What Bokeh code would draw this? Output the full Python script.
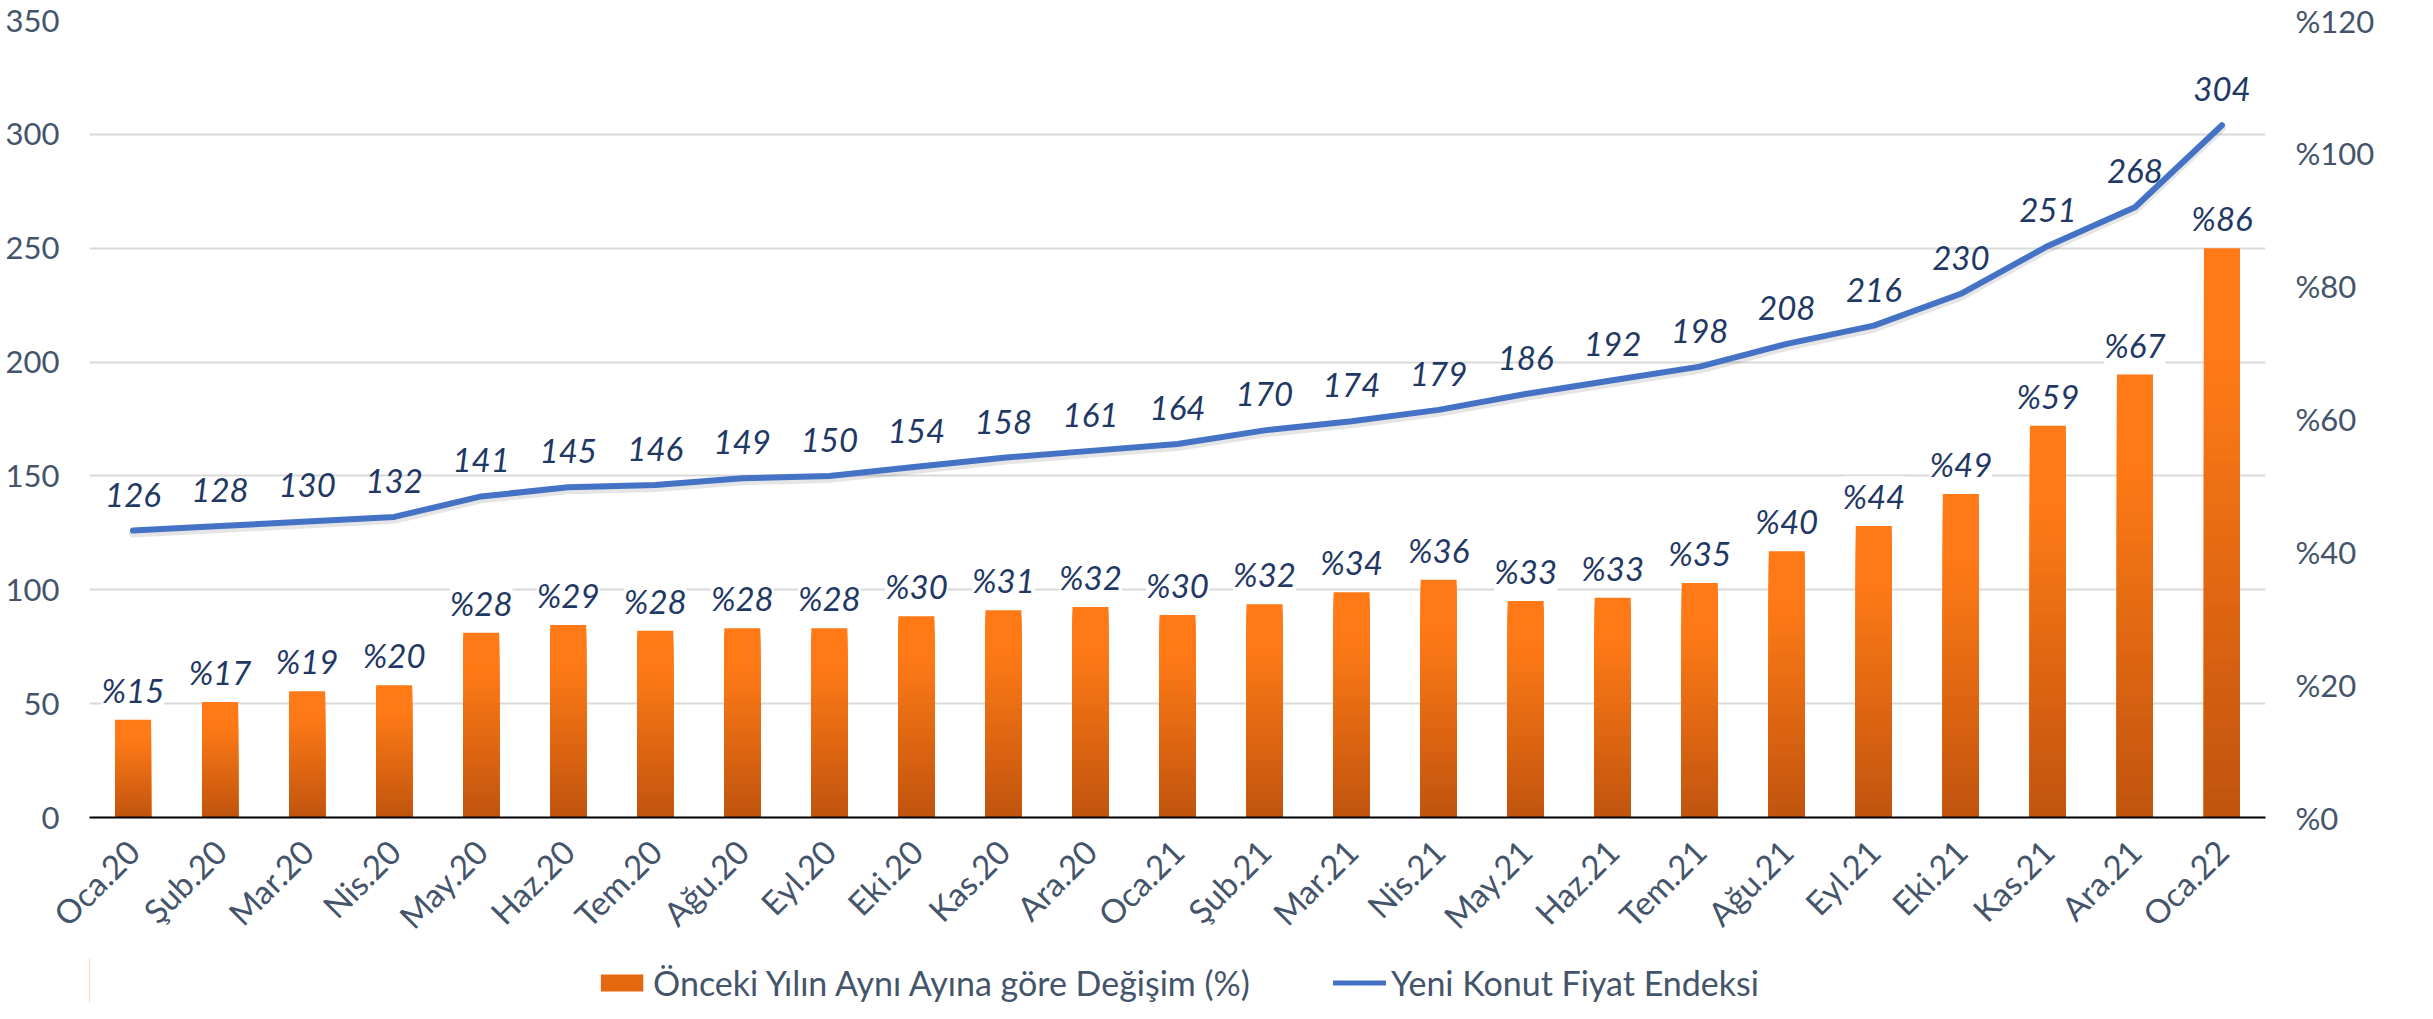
import numpy as np
from bokeh.plotting import figure
from bokeh.layouts import column
from bokeh.models import (ColumnDataSource, FactorRange, Range1d, LinearAxis, FixedTicker,
                          CustomJSTickFormatter, LabelSet, Legend, LegendItem)
from bokeh.core.properties import value
from bokeh.embed import file_html
from bokeh.resources import INLINE

# ---------------- data ----------------
months = ["Oca.20", "Şub.20", "Mar.20", "Nis.20", "May.20", "Haz.20", "Tem.20", "Ağu.20",
          "Eyl.20", "Eki.20", "Kas.20", "Ara.20", "Oca.21", "Şub.21", "Mar.21", "Nis.21",
          "May.21", "Haz.21", "Tem.21", "Ağu.21", "Eyl.21", "Eki.21", "Kas.21", "Ara.21", "Oca.22"]
index_values = [126, 128, 130, 132, 141, 145, 146, 149, 150, 154, 158, 161, 164, 170, 174,
                179, 186, 192, 198, 208, 216, 230, 251, 268, 304]
pct_change = [14.7, 17.4, 19.0, 19.9, 27.8, 29.0, 28.1, 28.5, 28.5, 30.3, 31.2, 31.7, 30.5,
              32.1, 33.9, 35.8, 32.6, 33.1, 35.3, 40.1, 43.9, 48.7, 59.0, 66.7, 85.7]
left_ticks = [0, 50, 100, 150, 200, 250, 300, 350]
right_ticks = [0, 20, 40, 60, 80, 100, 120]
series_names = ["Önceki Yılın Aynı Ayına göre Değişim (%)", "Yeni Konut Fiyat Endeksi"]

AXIS_COLOR = "#44546A"
LABEL_COLOR = "#1F3864"
LINE_COLOR = "#4472C4"
BAR_LEGEND_COLOR = "#E56810"
FONT = "Lato"

W = 2417
MAIN_H = 958
LEG_H = 45
TOP = 20
FRAME_H = 797

p = figure(x_range=FactorRange(*months, range_padding=0), y_range=Range1d(0, 350),
           width=W, height=MAIN_H, output_backend="svg", toolbar_location=None,
           min_border_left=89, min_border_right=152, min_border_top=TOP,
           min_border_bottom=MAIN_H - TOP - FRAME_H)
p.outline_line_color = None
p.extra_y_ranges = {"pct": Range1d(0, 120)}

# grid
p.xgrid.grid_line_color = None
p.ygrid.grid_line_color = "#D9D9D9"
p.ygrid.grid_line_width = 2
p.ygrid.ticker = FixedTicker(ticks=left_ticks)

# left axis
ya = p.yaxis[0]
ya.ticker = FixedTicker(ticks=left_ticks)
ya.axis_line_color = None
ya.major_tick_line_color = None
ya.minor_tick_line_color = None
ya.major_tick_out = 0
ya.major_tick_in = 0
ya.major_label_standoff = 30
ya.major_label_text_font = FONT
ya.major_label_text_font_size = "31px"
ya.major_label_text_color = AXIS_COLOR

# right axis
ra = LinearAxis(y_range_name="pct", ticker=FixedTicker(ticks=right_ticks),
                formatter=CustomJSTickFormatter(code="return '%' + tick;"))
ra.axis_line_color = None
ra.major_tick_line_color = None
ra.minor_tick_line_color = None
ra.major_tick_out = 0
ra.major_tick_in = 0
ra.major_label_standoff = 30
ra.major_label_text_font = FONT
ra.major_label_text_font_size = "31px"
ra.major_label_text_color = AXIS_COLOR
p.add_layout(ra, "right")

# x axis
xa = p.xaxis[0]
xa.axis_line_color = "black"
xa.axis_line_width = 2
xa.major_tick_line_color = None
xa.minor_tick_line_color = None
xa.major_tick_out = 0
xa.major_tick_in = 0
xa.major_label_orientation = np.pi / 4
xa.major_label_standoff = 28
xa.major_label_text_font = FONT
xa.major_label_text_font_size = "33px"
xa.major_label_text_color = AXIS_COLOR

# gradient bars (overlapping stacks, tall->short)
top_rgb = np.array([255, 122, 22])
bot_rgb = np.array([192, 84, 14])
def grad(f):
    t = min(1.0, f / 0.8)
    c = bot_rgb + (top_rgb - bot_rgb) * t
    return "#%02x%02x%02x" % tuple(int(round(v)) for v in c)

N = 40
bx, btop, bcol = [], [], []
for i in range(N):
    frac = (N - i) / N
    for m, v in zip(months, pct_change):
        bx.append(m)
        btop.append(v * frac)
        bcol.append(grad(frac - 0.5 / N))
bar_src = ColumnDataSource(dict(x=bx, top=btop, color=bcol))
p.vbar(x="x", top="top", bottom=0, width=0.414, source=bar_src, fill_color="color",
       line_color=None, y_range_name="pct")

# line with faint shadow
p.line(months, [v - 1.3 for v in index_values], line_color="black", line_alpha=0.10,
       line_width=8, line_cap="round", line_join="round")
p.line(months, index_values, line_color=LINE_COLOR, line_width=6,
       line_cap="round", line_join="round")

# labels
bar_lbl_src = ColumnDataSource(dict(x=months, y=pct_change,
                                    t=["%" + str(int(round(v))) for v in pct_change]))
p.add_layout(LabelSet(x="x", y="y", text="t", source=bar_lbl_src, y_range_name="pct",
                      text_align="center", text_baseline="middle", y_offset=30,
                      text_font=value(FONT), text_font_style="italic", text_font_size="33px",
                      text_color=LABEL_COLOR, background_fill_color="white"))
line_lbl_src = ColumnDataSource(dict(x=months, y=index_values, t=[str(v) for v in index_values]))
p.add_layout(LabelSet(x="x", y="y", text="t", source=line_lbl_src,
                      text_align="center", text_baseline="middle", y_offset=36,
                      text_font=value(FONT), text_font_style="italic", text_font_size="33px",
                      text_color=LABEL_COLOR))

# legend strip (separate figure below the chart); its proxy glyphs sit outside its view
lf = figure(width=W, height=LEG_H, output_backend="svg", toolbar_location=None,
            x_range=Range1d(0, 1), y_range=Range1d(0, 1), min_border=0,
            x_axis_location=None, y_axis_location=None)
lf.grid.grid_line_color = None
lf.outline_line_color = None
lf.background_fill_color = "white"
lf.border_fill_color = "white"
r_bar = lf.vbar(x=[-50], top=[1], width=0.4, fill_color=BAR_LEGEND_COLOR, line_color=None)
r_line = lf.line(x=[-60, -50], y=[-50, -50], line_color=LINE_COLOR, line_width=5,
                 line_cap="round")
legend = Legend(items=[LegendItem(label=series_names[0], renderers=[r_bar]),
                       LegendItem(label=series_names[1], renderers=[r_line])],
                orientation="horizontal", location="bottom_center",
                glyph_width=53, glyph_height=21, label_height=30, label_standoff=5,
                spacing=83, padding=0, margin=0, border_line_color=None,
                background_fill_alpha=0, label_text_font=FONT, label_text_font_size="34px",
                label_text_color=AXIS_COLOR)
lf.add_layout(legend, "center")

open("out.html", "w").write(file_html(column(p, lf), INLINE))
